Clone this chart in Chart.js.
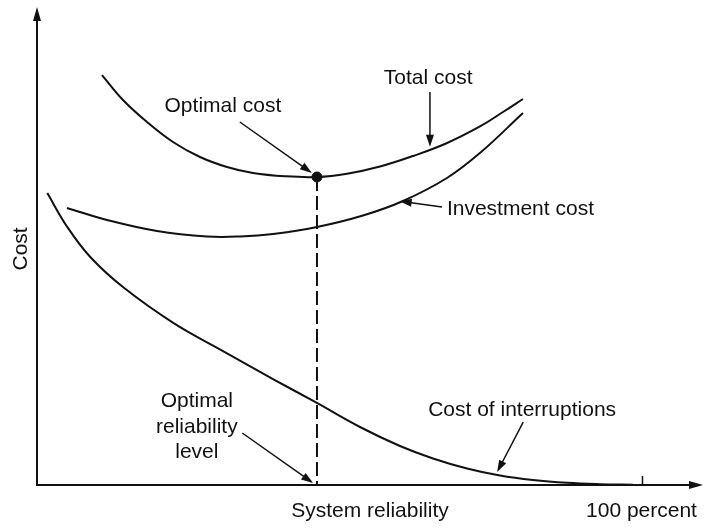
<!DOCTYPE html>
<html>
<head>
<meta charset="utf-8">
<script src="https://cdn.jsdelivr.net/npm/chart.js@4"></script>
<style>
  html, body { margin: 0; padding: 0; background: #fff; }
  #wrap { width: 706px; height: 528px; }
</style>
</head>
<body>
<div id="wrap"><canvas id="c" width="706" height="528"></canvas></div>
<script>
// Reliability (x, percent of the way to 100 percent) against cost (y, relative units)
const totalCostX = [10.73, 14.20, 18.17, 22.46, 26.92, 31.38, 35.67, 40.96, 46.24, 51.20, 56.65, 62.10, 67.55, 73.16, 76.96, 80.26];
const totalCostY = [85.95, 80.71, 76.10, 71.91, 68.76, 66.67, 65.41, 64.72, 64.57, 65.26, 66.77, 68.97, 71.59, 75.16, 78.20, 80.92];

const investmentX = [4.95, 11.56, 19.82, 28.08, 33.53, 38.98, 46.24, 53.84, 60.45, 67.71, 73.16, 80.26];
const investmentY = [58.07, 55.56, 53.25, 52.10, 52.10, 52.62, 54.09, 56.50, 59.54, 64.36, 69.60, 77.99];

const interruptionX = [1.7, 5.0, 8.8, 14.2, 22.5, 30.72, 38.98, 46.08, 53.34, 59.95, 65.40, 71.02, 76.46, 81.91, 87.53, 92.98, 98.43];
const interruptionY = [61.2, 54.1, 47.8, 41.5, 34.0, 28.09, 22.22, 17.30, 12.16, 8.18, 5.56, 3.46, 1.99, 1.05, 0.46, 0.17, 0.04];

const optimalX = 46.24;     // optimal reliability level
const optimalCost = 64.57;  // minimum of the total cost curve
const fullReliability = 100;

const xLabels = ["System reliability", "100 percent"];
const yLabel = "Cost";

const FONT = "21px 'Liberation Sans', Arial, Helvetica, sans-serif";
const INK = "#111";

function pts(xs, ys) { return xs.map((x, i) => ({ x, y: ys[i] })); }

// Callout texts (data coordinates, baseline y)
const callouts = [
  { text: "Total cost", x: 64.6, y: 84.1, align: "center" },
  { text: "Optimal cost", x: 30.7, y: 78.2, align: "center" },
  { text: "Investment cost", x: 67.7, y: 56.6, align: "left" },
  { text: "Cost of interruptions", x: 64.6, y: 14.5, align: "left" },
  { text: "Optimal", x: 26.4, y: 16.4, align: "center" },
  { text: "reliability", x: 26.4, y: 10.9, align: "center" },
  { text: "level", x: 26.4, y: 5.7, align: "center" }
];
// Leader arrows (from -> tip, data coordinates)
const leaders = [
  { from: [64.9, 82.4], to: [64.9, 70.9] },
  { from: [33.5, 76.1], to: [45.4, 65.4] },
  { from: [66.9, 58.3], to: [59.9, 59.5] },
  { from: [80.3, 13.2], to: [76.0, 2.7] },
  { from: [33.9, 10.9], to: [45.6, 0.4] }
];

function arrowHead(ctx, x0, y0, x1, y1, len, half) {
  const a = Math.atan2(y1 - y0, x1 - x0);
  ctx.beginPath();
  ctx.moveTo(x1, y1);
  ctx.lineTo(x1 - len * Math.cos(a) + half * Math.sin(a), y1 - len * Math.sin(a) - half * Math.cos(a));
  ctx.lineTo(x1 - len * Math.cos(a) - half * Math.sin(a), y1 - len * Math.sin(a) + half * Math.cos(a));
  ctx.closePath();
  ctx.fill();
}

const decor = {
  id: "decor",
  afterDatasetsDraw(chart) {
    const { ctx, chartArea: ca, scales: { x, y } } = chart;
    ctx.save();
    ctx.strokeStyle = INK;
    ctx.fillStyle = INK;
    ctx.lineCap = "butt";

    // axes with arrowheads
    const x0 = x.getPixelForValue(0), y0 = y.getPixelForValue(0);
    ctx.lineWidth = 2;
    ctx.beginPath();
    ctx.moveTo(x0, y0 + 1);
    ctx.lineTo(x0, ca.top + 10);
    ctx.moveTo(x0 - 1, y0);
    ctx.lineTo(ca.right - 10, y0);
    ctx.stroke();
    arrowHead(ctx, x0, y0, x0, ca.top - 1, 14, 4);
    arrowHead(ctx, x0, y0, ca.right + 3, y0, 14, 4);

    // tick at full reliability
    const xt = x.getPixelForValue(fullReliability);
    ctx.lineWidth = 1.5;
    ctx.beginPath();
    ctx.moveTo(xt, y0);
    ctx.lineTo(xt, y0 - 9);
    ctx.stroke();

    // leader arrows
    ctx.lineWidth = 1.5;
    leaders.forEach(l => {
      const ax = x.getPixelForValue(l.from[0]), ay = y.getPixelForValue(l.from[1]);
      const bx = x.getPixelForValue(l.to[0]), by = y.getPixelForValue(l.to[1]);
      const ang = Math.atan2(by - ay, bx - ax);
      ctx.beginPath();
      ctx.moveTo(ax, ay);
      ctx.lineTo(bx - 8 * Math.cos(ang), by - 8 * Math.sin(ang));
      ctx.stroke();
      arrowHead(ctx, ax, ay, bx, by, 12, 4);
    });

    // texts
    ctx.font = FONT;
    ctx.textBaseline = "alphabetic";
    callouts.forEach(c => {
      ctx.textAlign = c.align;
      ctx.fillText(c.text, x.getPixelForValue(c.x), y.getPixelForValue(c.y));
    });
    ctx.textAlign = "center";
    ctx.fillText(xLabels[0], x.getPixelForValue(55.0), y0 + 32);
    ctx.fillText(xLabels[1], xt - 1, y0 + 32);

    ctx.save();
    ctx.translate(x0 - 10, y.getPixelForValue(49.5));
    ctx.rotate(-Math.PI / 2);
    ctx.fillText(yLabel, 0, 0);
    ctx.restore();

    ctx.restore();
  }
};

const curve = (data) => ({
  type: "line",
  data,
  borderColor: INK,
  borderWidth: 2,
  pointRadius: 0,
  fill: false,
  tension: 0.4
});

new Chart(document.getElementById("c"), {
  type: "line",
  data: {
    datasets: [
      curve(pts(totalCostX, totalCostY)),
      curve(pts(investmentX, investmentY)),
      curve(pts(interruptionX, interruptionY)),
      {
        type: "line",
        data: [{ x: optimalX, y: optimalCost }, { x: optimalX, y: 0 }],
        borderColor: INK,
        borderWidth: 2,
        borderDash: [14, 5],
        pointRadius: 0,
        fill: false
      },
      {
        type: "scatter",
        data: [{ x: optimalX, y: optimalCost }],
        backgroundColor: INK,
        borderColor: INK,
        pointRadius: 5,
        pointHoverRadius: 5
      }
    ]
  },
  plugins: [decor],
  options: {
    responsive: false,
    animation: false,
    events: [],
    layout: { padding: { left: 37, top: 8, right: 6, bottom: 43 } },
    plugins: { legend: { display: false }, tooltip: { enabled: false } },
    scales: {
      x: { type: "linear", min: 0, max: 109.5, display: false },
      y: { type: "linear", min: 0, max: 100, display: false }
    }
  }
});
</script>
</body>
</html>
